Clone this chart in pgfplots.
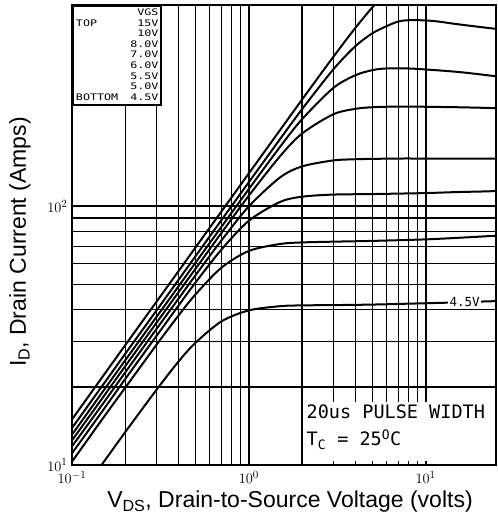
\documentclass[border=0pt]{standalone}
\usepackage{fontspec}
\setmainfont{Liberation Sans}
\newfontfamily\plotfont{DejaVu Sans Mono}
\newfontfamily\legfont[FakeStretch=1.3]{DejaVu Sans Mono}
\usepackage{pgfplots}
\pgfplotsset{compat=1.18}

\begin{document}
\begin{tikzpicture}
\begin{axis}[
    scale only axis,
    width=424pt, height=460pt,
    xmode=log, ymode=log,
    xmin=0.1, xmax=25,
    ymin=10, ymax=600,
    xtick={0.1,1,10}, ytick={10,100},
    grid=both,
    major grid style={black, line width=2.2pt},
    minor grid style={black, line width=1.3pt},
    major tick length=0pt, minor tick length=0pt,
    axis line style={line width=2.2pt},
    tick label style={font=\fontsize{15}{16}\selectfont},
    xticklabel style={yshift=-3pt},
    yticklabel style={xshift=-1pt},
    xlabel={V\textsubscript{DS}, Drain-to-Source Voltage (volts)},
    ylabel={I\textsubscript{D}, Drain Current (Amps)},
    label style={font=\fontsize{23}{26}\selectfont},
    xlabel style={at={(axis description cs:0.5,0)}, anchor=center, xshift=6pt, yshift=-37pt},
    ylabel style={at={(axis description cs:0,0.5)}, anchor=center, yshift=52pt, xshift=-7pt},
    cycle list={{black, solid}},
    every axis plot post/.append style={black, solid, line width=2pt, smooth, mark=none},
]
% VGS = 15 V
\addplot coordinates {(0.1,15.0)(0.15,22.1)(0.2,29.05)(0.3,42.7)(0.4,56.1)(0.5,69.4)(0.7,95.5)(1,134)(1.5,196.9)(2,258.5)(3,377.6)(4,488.8)(5,587.8)(6,670)};
% 10 V
\addplot coordinates {(0.1,13.9)(0.15,20.45)(0.2,26.9)(0.3,39.5)(0.4,51.9)(0.5,64.2)(0.7,88.4)(1,123.9)(1.5,181.7)(2,237.3)(3,337.8)(4,415.5)(5,466.6)(6,496.6)(7,518)(8,524)(10,523)(12,517)(15,506)(20,494)(25,485)};
% 8.0 V
\addplot coordinates {(0.1,13.1)(0.15,19.3)(0.2,25.4)(0.3,37.3)(0.4,49.0)(0.5,60.6)(0.7,83.3)(1,116.6)(1.5,169.6)(2,217.1)(3,286.4)(4,321)(5,336)(6,341)(8,341)(10,338)(15,331)(20,324)(25,318)};
% 7.0 V
\addplot coordinates {(0.1,12.45)(0.15,18.3)(0.2,24.1)(0.3,35.4)(0.4,46.5)(0.5,57.4)(0.7,78.9)(1,109.9)(1.5,156)(2,191.1)(3,226.7)(4,238)(5,241.5)(7,243)(10,242.5)(15,241.5)(20,240.5)(25,239.5)};
% 6.0 V
\addplot coordinates {(0.1,11.8)(0.15,17.3)(0.2,22.8)(0.3,33.5)(0.4,43.9)(0.5,54.2)(0.7,73.8)(1,99.9)(1.5,129.2)(2,142.6)(3,150.4)(4,152)(5,152.5)(7,153)(10,153)(15,153)(20,153)(25,153)};
% 5.5 V
\addplot coordinates {(0.1,11.1)(0.15,16.3)(0.2,21.5)(0.3,31.5)(0.4,41.3)(0.5,50.8)(0.7,68)(1,87.9)(1.5,103.9)(2,108.9)(3,111)(5,111.5)(10,112.5)(15,113.5)(20,114)(25,114.5)};
% 5.0 V
\addplot coordinates {(0.1,10.3)(0.15,15.2)(0.2,19.9)(0.3,29.1)(0.4,37.8)(0.5,45.7)(0.7,57.9)(1,67.2)(1.5,71.5)(2,72.5)(3,73)(5,73.5)(10,74.5)(15,75.5)(20,76.3)(25,77)};
% 4.5 V
\addplot coordinates {(0.1,6.96)(0.15,10.2)(0.2,13.4)(0.3,19.5)(0.4,25.1)(0.5,29.7)(0.7,35.9)(1,39.6)(1.5,41.1)(2,41.4)(3,41.5)(5,41.7)(10,42.2)(15,42.5)(20,42.8)(25,43)};

\node[fill=white, inner sep=1.5pt, font=\plotfont\fontsize{12.5}{13}\selectfont] at (axis cs:16.6,42.5) {4.5V};

% pulse width note
\fill[white] (axis cs:2.07,10.4) rectangle (axis cs:24.6,17.5);
\node[anchor=north west, align=left, inner sep=0pt, font=\plotfont\fontsize{18.5}{27}\selectfont]
    at (axis cs:2.12,17.1) {20us PULSE WIDTH\\T\textsubscript{C} = 25\textsuperscript{O}C};

% VGS key
\node[anchor=north west, draw=black, fill=white, line width=2pt, inner sep=2pt,
      font=\legfont\fontsize{9}{10.6}\selectfont]
    at (rel axis cs:0,1) {%
    \begin{tabular}{@{\hspace{1pt}}l@{\hspace{12pt}}r@{\hspace{1pt}}}
        & VGS\\
    TOP & 15V\\
        & 10V\\
        & 8.0V\\
        & 7.0V\\
        & 6.0V\\
        & 5.5V\\
        & 5.0V\\
    BOTTOM & 4.5V
    \end{tabular}};
\end{axis}
\path ([shift={(-72pt,-60pt)}]current axis.south west) ([yshift=5pt]current axis.north east);
\end{tikzpicture}
\end{document}
